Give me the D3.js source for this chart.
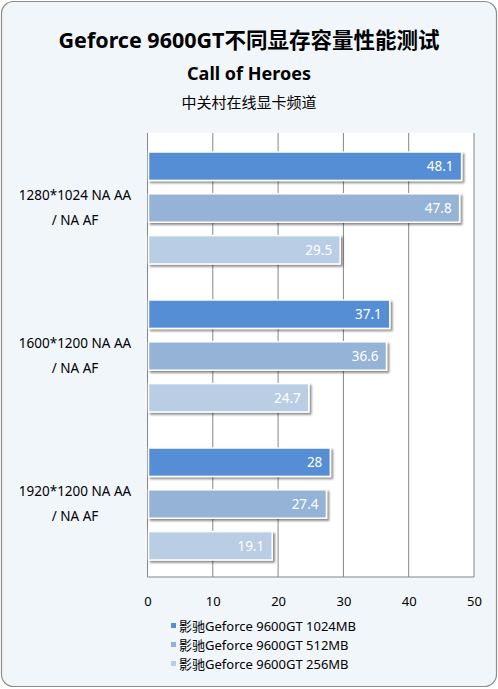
<!DOCTYPE html>
<html><head><meta charset="utf-8">
<script src="https://cdn.jsdelivr.net/npm/d3@7"></script>
<style>
html,body{margin:0;padding:0;background:#fff;}
text{font-family:"Noto Sans","Noto Sans CJK SC",sans-serif;}
</style></head>
<body><div id="chart"></div>
<script>
const categories = ["1280*1024 NA AA / NA AF", "1600*1200 NA AA / NA AF", "1920*1200 NA AA / NA AF"];
const categoryLines = [["1280*1024 NA AA", "/ NA AF"], ["1600*1200 NA AA", "/ NA AF"], ["1920*1200 NA AA", "/ NA AF"]];
const seriesNames = ["影驰Geforce 9600GT 1024MB", "影驰Geforce 9600GT 512MB", "影驰Geforce 9600GT 256MB"];
const series1024 = [48.1, 37.1, 28];
const series512 = [47.8, 36.6, 27.4];
const series256 = [29.5, 24.7, 19.1];
const xTicks = [0, 10, 20, 30, 40, 50];
const colors = ["#558ed5", "#95b3d7", "#b9cde5"];

(function () {
const W = 498, H = 689;
const svg = d3.select("#chart").append("svg").attr("width", W).attr("height", H);
const defs = svg.append("defs");
const f = defs.append("filter").attr("id", "sh").attr("x", "-5%").attr("y", "-20%").attr("width", "115%").attr("height", "160%");
f.append("feDropShadow").attr("dx", 2).attr("dy", 2).attr("stdDeviation", 1.3).attr("flood-color", "#000").attr("flood-opacity", 0.45);

svg.append("rect").attr("x", 1.5).attr("y", 1.5).attr("width", W - 3).attr("height", H - 4)
  .attr("rx", 12).attr("fill", "#f1f6fb").attr("stroke", "#8c8c8c").attr("stroke-width", 1.2);

svg.append("text").attr("x", 249).attr("y", 48).attr("text-anchor", "middle")
  .attr("font-size", 21.5).attr("font-weight", "bold").attr("fill", "#000").text("Geforce 9600GT不同显存容量性能测试");
svg.append("text").attr("x", 249).attr("y", 80).attr("text-anchor", "middle")
  .attr("font-size", 18).attr("font-weight", "bold").attr("fill", "#000").text("Call of Heroes");
svg.append("text").attr("x", 249).attr("y", 108).attr("text-anchor", "middle")
  .attr("font-size", 15).attr("fill", "#000").text("中关村在线显卡频道");

const pLeft = 147.5, pRight = 474, pTop = 133, pBottom = 577;
const x = d3.scaleLinear().domain([0, 50]).range([pLeft, pRight]);
const y0 = d3.scaleBand().domain(categories).range([pTop, pBottom]).paddingInner(0).paddingOuter(0);
const y1 = d3.scaleBand().domain(seriesNames).range([19, y0.bandwidth() - 17]).paddingInner(0.32).paddingOuter(0);

svg.append("rect").attr("x", pLeft).attr("y", pTop).attr("width", pRight - pLeft).attr("height", pBottom - pTop).attr("fill", "#fff");

const g = svg.append("g");
g.selectAll("line.grid").data(xTicks).join("line").attr("class", "grid")
  .attr("x1", d => x(d)).attr("x2", d => x(d)).attr("y1", pTop).attr("y2", pBottom)
  .attr("stroke", "#868686").attr("stroke-width", 1);
g.append("line").attr("x1", pLeft).attr("x2", pRight).attr("y1", pBottom).attr("y2", pBottom).attr("stroke", "#868686");

const xAxis = d3.axisBottom(x).tickValues(xTicks).tickSize(0).tickPadding(0);
const ax = svg.append("g").attr("transform", `translate(0,${pBottom + 29})`).call(xAxis);
ax.select(".domain").remove();
ax.selectAll("text").attr("font-size", 13).attr("fill", "#000").attr("dy", 0)
  .style("font-family", '"Noto Sans","Noto Sans CJK SC",sans-serif');

const allSeries = [series1024, series512, series256];
const rows = [];
categories.forEach((c, i) => allSeries.forEach((s, j) => rows.push({cat: c, name: seriesNames[j], v: s[i], j})));

const bars = svg.append("g");
bars.selectAll("rect").data(rows).join("rect")
  .attr("x", x(0) + 1).attr("y", d => y0(d.cat) + y1(d.name))
  .attr("width", d => x(d.v) - x(0) - 1).attr("height", y1.bandwidth())
  .attr("fill", d => colors[d.j]).attr("stroke", "#fff").attr("stroke-width", 1.5)
  .attr("filter", "url(#sh)");
bars.selectAll("text").data(rows).join("text")
  .attr("x", d => x(d.v) - 8).attr("y", d => y0(d.cat) + y1(d.name) + y1.bandwidth() / 2 + 5)
  .attr("text-anchor", "end").attr("font-size", 13.5).attr("fill", "#fff").text(d => d.v);

const cl = svg.append("g");
categories.forEach((c, i) => {
  const cy = y0(c) + y0.bandwidth() / 2 - 12;
  categoryLines[i].forEach((ln, k) => {
    cl.append("text").attr("x", 75).attr("y", cy + 5 + k * 25).attr("text-anchor", "middle")
      .attr("font-size", 13.5).attr("fill", "#000").text(ln);
  });
});

const lg = svg.append("g");
seriesNames.forEach((n, i) => {
  const ly = 630 + i * 19;
  lg.append("rect").attr("x", 171).attr("y", ly - 7).attr("width", 5).attr("height", 5).attr("fill", colors[i]);
  lg.append("text").attr("x", 179).attr("y", ly + 1).attr("font-size", 13).attr("fill", "#000").text(n);
});
})();
</script></body></html>
